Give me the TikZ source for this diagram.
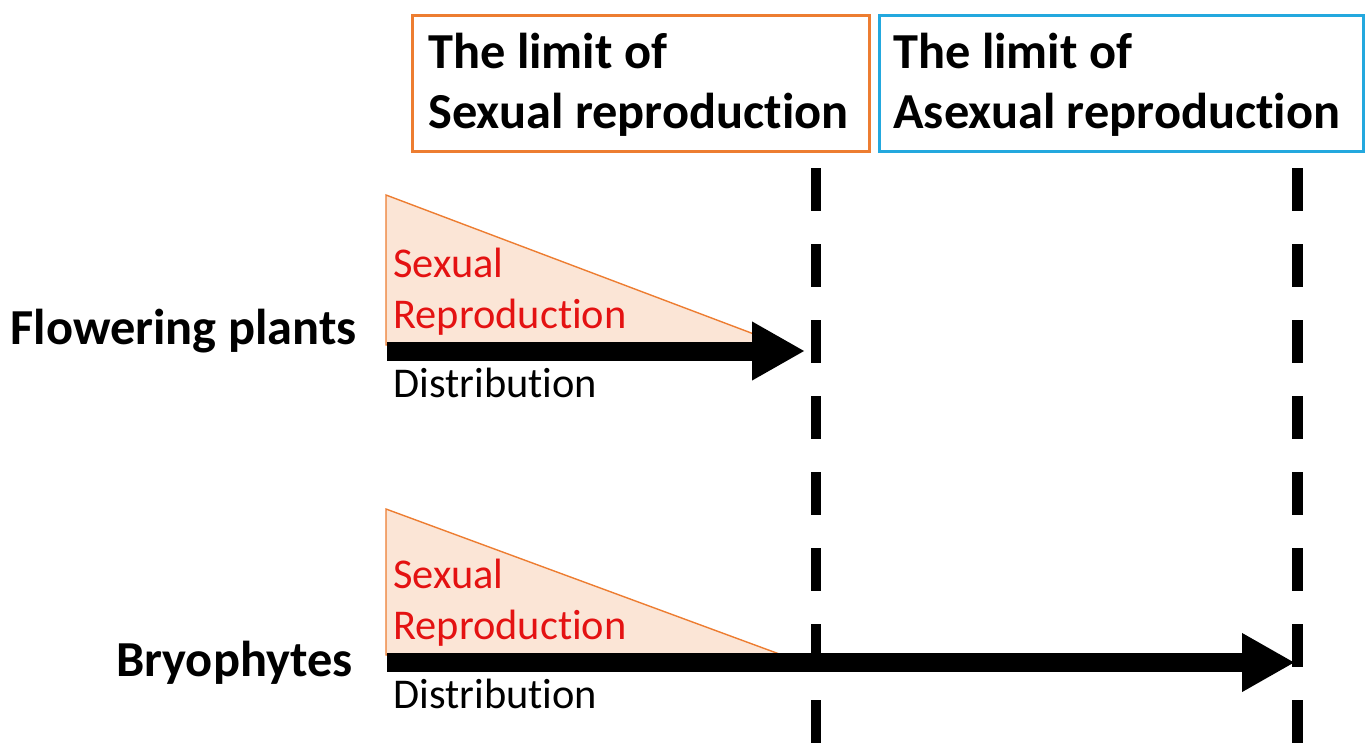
\documentclass[tikz,border=0pt]{standalone}
\usepackage{fontspec}
\setmainfont[Ligatures={NoCommon}]{Carlito}
\usetikzlibrary{arrows.meta}
\definecolor{orangeline}{RGB}{237,125,49}
\definecolor{blueline}{RGB}{35,168,222}
\definecolor{peach}{RGB}{251,229,214}
\definecolor{redtext}{RGB}{228,18,18}
\begin{document}
\begin{tikzpicture}[x=0.5pt,y=-0.5pt,
  title/.style={anchor=base west,inner sep=0,font=\fontsize{25.2}{30}\selectfont\bfseries},
  rowlabel/.style={anchor=base east,inner sep=0,font=\fontsize{25.2}{30}\selectfont\bfseries},
  redlbl/.style={anchor=base west,inner sep=0,text=redtext,font=\fontsize{21.2}{25}\selectfont},
  distlbl/.style={anchor=base west,inner sep=0,font=\fontsize{21.2}{25}\selectfont},
  limitbox/.style={draw,line width=1.5pt,inner sep=0,minimum height=68pt},
  limitline/.style={line width=5.3pt,dash pattern=on 21.5pt off 16.5pt},
  wedge/.style={fill=peach,draw=orangeline,line width=0.7pt,line join=miter},
  distarrow/.style={line width=9.5pt,-{Triangle[length=26.5pt,width=27.5pt]}}
]
\useasboundingbox (0,0) rectangle (1370,745);
% boxes
\node[limitbox,draw=orangeline,minimum width=228.5pt,anchor=north west] (sexbox) at (411,14) {};
\node[limitbox,draw=blueline,minimum width=242pt,anchor=north west] (asexbox) at (878,14) {};
\node[title] (s1) at (428,68) {The limit of};
\node[title] (s2) at (428,128) {Sexual reproduction};
\node[title] (a1) at (893,68) {The limit of};
\node[title] (a2) at (893,128) {Asexual reproduction};
% dashed limits
\coordinate (l1top) at (816,168);
\coordinate (l1bot) at (816,745);
\coordinate (l2top) at (1297.5,168);
\coordinate (l2bot) at (1297.5,745);
% wedges
\draw[wedge] (386,195) -- (386,345) -- (783,345) -- cycle;
\draw[wedge] (386,509) -- (386,655) -- (782,655) -- cycle;
% arrows
\coordinate (f0) at (387,351);
\coordinate (f1) at (805,351);
\coordinate (b0) at (387,662.5);
\coordinate (b1) at (1295,662.5);
\draw[distarrow] (f0) -- (f1);
\draw[distarrow] (b0) -- (b1);
\draw[limitline] (l1top) -- (l1bot);
\draw[limitline] (l2top) -- (l2bot);
% labels
\node[rowlabel] (fp) at (357,344) {Flowering plants};
\node[rowlabel] (br) at (353,676) {Bryophytes};
\node[redlbl] (r1) at (393,277) {Sexual};
\node[redlbl] (r2) at (393,328) {Reproduction};
\node[distlbl] (d1) at (393,397) {Distribution};
\node[redlbl] (r3) at (393,588) {Sexual};
\node[redlbl] (r4) at (393,639) {Reproduction};
\node[distlbl] (d2) at (393,708) {Distribution};
\end{tikzpicture}
\end{document}
